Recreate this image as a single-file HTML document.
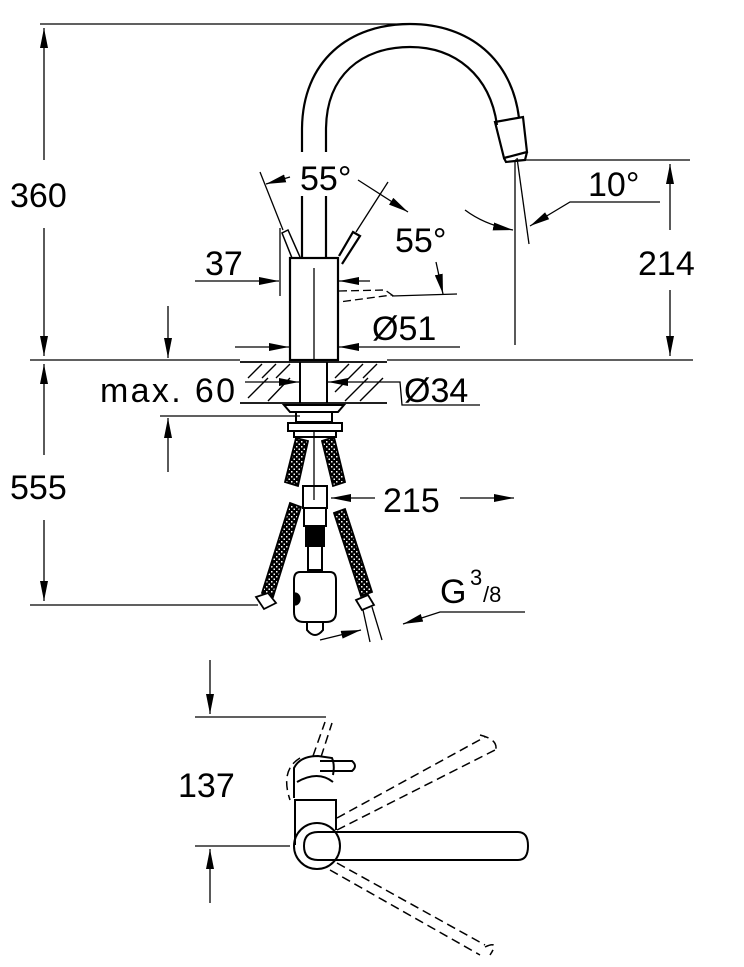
<!DOCTYPE html>
<html><head><meta charset="utf-8"><style>
html,body{margin:0;padding:0;background:#fff}
svg{display:block}
text{font-family:"Liberation Sans",sans-serif;fill:#000}
</style></head><body>
<svg width="744" height="967" viewBox="0 0 744 967" xmlns="http://www.w3.org/2000/svg">
<defs>
<marker id="a" viewBox="0 0 20 8" refX="20" refY="4" markerWidth="20" markerHeight="8" markerUnits="userSpaceOnUse" orient="auto-start-reverse"><path d="M0,0 L20,4 L0,8 z" fill="#000"/></marker>
<pattern id="hose" width="5" height="5" patternUnits="userSpaceOnUse"><rect width="5" height="5" fill="#000"/><rect x="1" y="1" width="1.5" height="1.5" fill="#fff"/><rect x="3.5" y="3.5" width="1.5" height="1.5" fill="#fff"/></pattern>
</defs>
<g stroke="#000" fill="none" stroke-width="1.3">
<line x1="40" y1="24" x2="410" y2="24"/>
<line x1="44" y1="28" x2="44" y2="160" marker-start="url(#a)"/>
<line x1="44" y1="228" x2="44" y2="356" marker-end="url(#a)"/>
<line x1="30" y1="360" x2="240" y2="360"/>
<line x1="387" y1="360" x2="693" y2="360"/>
<line x1="44" y1="364" x2="44" y2="455" marker-start="url(#a)"/>
<line x1="44" y1="520" x2="44" y2="601" marker-end="url(#a)"/>
<line x1="30" y1="605" x2="258" y2="605"/>
<line x1="515" y1="160" x2="690" y2="160"/>
<line x1="670" y1="164" x2="670" y2="230" marker-start="url(#a)"/>
<line x1="670" y1="290" x2="670" y2="356" marker-end="url(#a)"/>
<line x1="515" y1="160" x2="515" y2="345"/>
<line x1="517" y1="158" x2="529" y2="244"/>
<path d="M465,210 Q485,225 513,230" marker-end="url(#a)"/>
<path d="M660,202 L570,202 L530,226" marker-end="url(#a)"/>
<g stroke-width="2.2">
<path d="M302,152 L302,130 C302,60 350,24 410,24 C470,24 512,60 519,118"/>
<path d="M326,152 L326,130 C326,75 362,47 410,47 C455,47 490,75 497,125"/>
<path d="M495,122 L523,117 L527,152 L504,158 Z"/>
<path d="M504,158 L506,162 L525,160 L527,152"/>
<rect x="290" y="258" width="48" height="102"/>
<line x1="302" y1="196" x2="302" y2="258"/>
<line x1="326" y1="196" x2="326" y2="258"/>
<path d="M339,256 L353,232 L360,236 L342,264"/>
<path d="M292,258 L282,233 L288,230 L300,257" stroke-width="1.5"/>
</g>
<line x1="314" y1="268" x2="314" y2="360"/>
<path d="M339,291 L385,290 L392,295 L339,302" stroke-dasharray="8,4"/>
<line x1="392" y1="296" x2="457" y2="294"/>
<line x1="260" y1="172" x2="283" y2="230"/>
<line x1="388" y1="182" x2="356" y2="232"/>
<line x1="290" y1="177" x2="266" y2="184" marker-end="url(#a)"/>
<line x1="358" y1="180" x2="408" y2="212" marker-end="url(#a)"/>
<line x1="436" y1="262" x2="443" y2="294" marker-end="url(#a)"/>
<line x1="280" y1="228" x2="280" y2="296"/>
<line x1="195" y1="281" x2="279" y2="281" marker-end="url(#a)"/>
<line x1="370" y1="281" x2="339" y2="281" marker-end="url(#a)"/>
<line x1="235" y1="347" x2="289" y2="347" marker-end="url(#a)"/>
<line x1="460" y1="347" x2="339" y2="347" marker-end="url(#a)"/>
<line x1="240" y1="362" x2="387" y2="362" stroke-width="1.8"/>
<line x1="240" y1="403" x2="387" y2="403" stroke-width="1.8"/>
<g stroke-width="1.4">
<path d="M248,378 L262,364 M248,398 L268,378 M268,401 L290,378 M262,378 L276,364 M276,378 L290,364 M335,378 L349,364 M349,378 L363,364 M363,378 L377,364 M345,401 L368,378 M360,401 L383,378 M335,392 L349,378"/>
</g>
<line x1="300" y1="362" x2="300" y2="403" stroke-width="2"/>
<line x1="327" y1="362" x2="327" y2="403" stroke-width="2"/>
<line x1="245" y1="382" x2="299" y2="382" marker-end="url(#a)"/>
<line x1="385" y1="382" x2="328" y2="382" marker-end="url(#a)"/>
<path d="M385,382 L400,382 L402,405 L480,405"/>
<line x1="160" y1="416" x2="300" y2="416"/>
<line x1="168" y1="472" x2="168" y2="418" marker-end="url(#a)"/>
<line x1="168" y1="306" x2="168" y2="358" marker-end="url(#a)"/>
<g stroke-width="2">
<path d="M284,405 L344,405 L338,412 L290,412 Z"/>
<rect x="296" y="412" width="36" height="10"/>
<rect x="288" y="423" width="54" height="8"/>
<rect x="294" y="431" width="42" height="6"/>
<rect x="303" y="486" width="24" height="22"/>
<rect x="304" y="508" width="22" height="18"/>
<rect x="306" y="526" width="18" height="20" fill="#000"/>
<rect x="308" y="546" width="14" height="24"/>
<path d="M300,572 L330,572 Q336,572 336,580 L336,612 Q336,622 326,622 L304,622 Q294,622 294,612 L294,580 Q294,572 300,572 Z"/>
<path d="M307,622 L307,630 Q315,640 323,630 L323,622"/>
</g>
<path d="M295,593 a5,6 0 0 1 0,12 z" fill="#000"/>
<line x1="314" y1="431" x2="314" y2="500"/>
<g fill="url(#hose)" stroke="#000" stroke-width="1.8">
<path d="M296,438 L308,441 L298,486 L285,482 Z"/>
<path d="M322,441 L334,437 L345,482 L333,486 Z"/>
<path d="M290,503 L301,507 L273,597 L262,593 Z"/>
<path d="M334,513 L345,509 L372,592 L361,596 Z"/>
</g>
<g stroke-width="1.8" fill="#fff">
<path d="M256,597 L268,593 L276,603 L264,609 Z"/>
<path d="M356,600 L368,595 L374,605 L362,610 Z"/>
</g>
<line x1="363" y1="610" x2="370" y2="642"/>
<line x1="372" y1="607" x2="382" y2="640"/>
<line x1="375" y1="498" x2="331" y2="498" marker-end="url(#a)"/>
<line x1="460" y1="498" x2="514" y2="498" marker-end="url(#a)"/>
<path d="M525,612 L440,612 L403,624" marker-end="url(#a)"/>
<line x1="320" y1="640" x2="361" y2="630" marker-end="url(#a)"/>
<line x1="210" y1="660" x2="210" y2="714" marker-end="url(#a)"/>
<line x1="195" y1="717" x2="326" y2="717"/>
<line x1="195" y1="846" x2="290" y2="846"/>
<line x1="210" y1="903" x2="210" y2="849" marker-end="url(#a)"/>
<g stroke-width="2">
<path d="M295,845 L295,800 L336,800 L336,830"/>
<path d="M294,798 L294,768 Q300,756 318,756 L332,758 Q335,765 333,775"/>
<path d="M297,782 Q318,770 333,782" />
<path d="M320,761 L352,761 Q358,766 352,771 L320,771"/>
<circle cx="317" cy="846" r="23"/>
<path d="M318,832 L518,832 Q528,832 528,846 Q528,860 518,860 L318,860 Q304,860 304,846 Q304,832 318,832 Z"/>
</g>
<g stroke-dasharray="9,5" stroke-width="1.5">
<path d="M337,818 L485,737 M337,830 L495,750"/>
<path d="M337,863 L485,945 M330,870 L480,955"/>
<path d="M313,756 L325,722 M321,757 L332,723"/>
<path d="M300,758 Q280,770 290,800"/>
<path d="M480,735 Q500,740 495,752 M485,947 Q500,940 490,955"/>
</g>
</g>
<g font-size="34">
<text x="10" y="207">360</text>
<text x="10" y="499">555</text>
<text x="638" y="275">214</text>
<text x="300" y="190">55°</text>
<text x="395" y="252">55°</text>
<text x="588" y="196">10°</text>
<text x="205" y="275">37</text>
<text x="372" y="340">Ø51</text>
<text x="100" y="402" textLength="135">max. 60</text>
<text x="404" y="402">Ø34</text>
<text x="383" y="512">215</text>
<text x="440" y="603">G</text>
<text x="470" y="585" font-size="22">3</text>
<text x="483" y="602" font-size="22">/8</text>
<text x="178" y="797">137</text>
</g>
</svg>
</body></html>
